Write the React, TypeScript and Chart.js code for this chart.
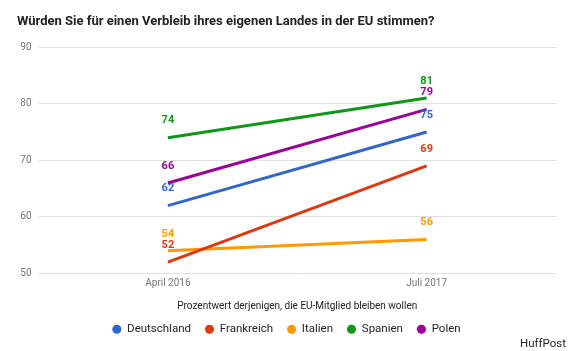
import React, { useEffect, useRef } from "react";
import { Chart, registerables } from "chart.js";

Chart.register(...registerables);

const categories = ["April 2016", "Juli 2017"];
const deutschland = [62, 75];
const frankreich = [52, 69];
const italien = [54, 56];
const spanien = [74, 81];
const polen = [66, 79];
const seriesNames = ["Deutschland", "Frankreich", "Italien", "Spanien", "Polen"];
const seriesColors = ["#3366cc", "#dc3912", "#ff9900", "#109618", "#990099"];
const yTicks = [50, 60, 70, 80, 90];

const titleText = "Würden Sie für einen Verbleib ihres eigenen Landes in der EU stimmen?";
const axisTitle = "Prozentwert derjenigen, die EU-Mitglied bleiben wollen";
const sourceText = "HuffPost";

const FONT = "Roboto, 'Noto Sans', Arial, sans-serif";

const valueLabels = {
  id: "valueLabels",
  afterDatasetsDraw(chart: any) {
    const ctx = chart.ctx;
    ctx.save();
    ctx.font = `bold 11px ${FONT}`;
    ctx.textAlign = "center";
    ctx.textBaseline = "middle";
    chart.data.datasets.forEach((ds: any, i: number) => {
      const meta = chart.getDatasetMeta(i);
      meta.data.forEach((pt: any, j: number) => {
        ctx.fillStyle = ds.borderColor;
        ctx.fillText(String(ds.data[j]), pt.x, pt.y - 17);
      });
    });
    ctx.restore();
  },
};

const sourcePlugin = {
  id: "sourceText",
  afterDraw(chart: any) {
    const ctx = chart.ctx;
    ctx.save();
    ctx.font = `11.5px ${FONT}`;
    ctx.fillStyle = "#222222";
    ctx.textAlign = "right";
    ctx.textBaseline = "middle";
    ctx.fillText(sourceText, chart.width - 4, chart.height - 7);
    ctx.restore();
  },
};

export default function App() {
  const ref = useRef<HTMLCanvasElement | null>(null);
  useEffect(() => {
    if (!ref.current) return;
    const allData = [deutschland, frankreich, italien, spanien, polen];
    const chart = new Chart(ref.current, {
      type: "line",
      data: {
        labels: categories,
        datasets: seriesNames.map((name, i) => ({
          label: name,
          data: allData[i],
          borderColor: seriesColors[i],
          backgroundColor: seriesColors[i],
          borderWidth: 3,
          pointRadius: 0,
          pointHoverRadius: 0,
          tension: 0,
        })),
      },
      options: {
        responsive: false,
        animation: false,
        layout: { padding: { left: 17, right: 14, top: 0, bottom: 6 } },
        plugins: {
          title: {
            display: true,
            text: titleText,
            align: "start",
            color: "#222222",
            font: { family: FONT, size: 13, weight: "bold" },
            padding: { top: 14, bottom: 17.5 },
          },
          legend: {
            position: "bottom",
            labels: {
              usePointStyle: true,
              pointStyle: "circle",
              boxWidth: 9,
              boxHeight: 6.4,
              padding: 14,
              color: "#222222",
              font: { family: FONT, size: 11.5 },
              generateLabels: (chart: any) => {
                const items = Chart.defaults.plugins.legend.labels.generateLabels(chart);
                return items.map((it: any) => ({ ...it, lineWidth: 0, strokeStyle: "transparent" }));
              },
            },
          },
          tooltip: { enabled: false },
        },
        scales: {
          x: {
            offset: true,
            grid: { display: false, drawTicks: false },
            border: { display: false },
            ticks: { color: "#757575", font: { family: FONT, size: 10 }, padding: 4 },
            title: {
              display: true,
              text: axisTitle,
              color: "#222222",
              font: { family: FONT, size: 10 },
              padding: { top: 7, bottom: -3 },
            },
          },
          y: {
            min: 50,
            max: 90,
            afterFit: (scale: any) => {
              scale.width = 21.5;
            },
            afterBuildTicks: (scale: any) => {
              scale.ticks = yTicks.map((v) => ({ value: v }));
            },
            grid: { color: "#e0e0e0", drawTicks: false, lineWidth: 1 },
            border: { display: false },
            ticks: { color: "#757575", font: { family: FONT, size: 10 }, padding: 7 },
          },
        },
      },
      plugins: [valueLabels, sourcePlugin],
    });
    return () => chart.destroy();
  }, []);
  return (
    <div style={{ position: "absolute", left: 0, top: 0, width: 570, height: 351, background: "#fff" }}>
      <canvas ref={ref} width={570} height={351} style={{ display: "block" }} />
    </div>
  );
}
